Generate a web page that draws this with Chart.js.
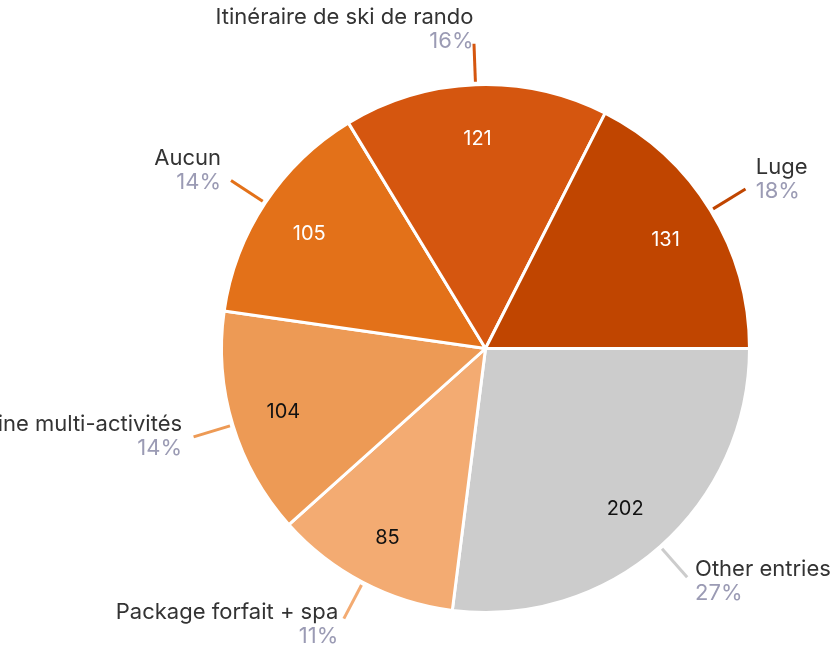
<!DOCTYPE html>
<html>
<head>
<meta charset="utf-8">
<script src="https://cdn.jsdelivr.net/npm/chart.js@4/dist/chart.umd.min.js"></script>
<style>
  html, body { margin: 0; padding: 0; background: #fff; }
  #wrap { position: relative; width: 836px; height: 647px; }
</style>
</head>
<body>
<div id="wrap"><canvas id="pieChart"></canvas></div>
<script>
// Data, clockwise from 3 o'clock
const labels = ['Other entries', 'Package forfait + spa', 'Semaine multi-activités', 'Aucun', 'Itinéraire de ski de rando', 'Luge'];
const values = [202, 85, 104, 105, 121, 131];
const sliceColors = ['#cccccc', '#f3ab72', '#ed9a55', '#e37119', '#d5560f', '#c04500'];
const valueColors = ['#111111', '#111111', '#111111', '#ffffff', '#ffffff', '#ffffff'];

const FONT = 'Inter, "Noto Sans", sans-serif';

// Draws values inside slices and outside labels with leader lines
const sliceLabels = {
    id: 'sliceLabels',
    afterDatasetsDraw(chart) {
        const ctx = chart.ctx;
        const meta = chart.getDatasetMeta(0);
        const total = values.reduce((a, b) => a + b, 0);

        meta.data.forEach((arc, i) => {
            const { x, y, startAngle, endAngle, outerRadius } = arc.getProps(['x', 'y', 'startAngle', 'endAngle', 'outerRadius'], true);
            const mid = (startAngle + endAngle) / 2;
            const cos = Math.cos(mid);
            const sin = Math.sin(mid);

            // value inside
            ctx.save();
            ctx.font = '20px ' + FONT;
            ctx.fillStyle = valueColors[i];
            ctx.textAlign = 'center';
            ctx.textBaseline = 'middle';
            const rIn = outerRadius * 0.8;
            ctx.fillText(String(values[i]), x + cos * rIn, y + sin * rIn + 2);

            // leader line
            const r1 = outerRadius + 3;
            const r2 = outerRadius + 41;
            const ex = x + cos * r2;
            const ey = y + sin * r2;
            ctx.strokeStyle = sliceColors[i];
            ctx.lineWidth = 3;
            ctx.beginPath();
            ctx.moveTo(x + cos * r1, y + sin * r1);
            ctx.lineTo(ex, ey);
            ctx.stroke();

            // outside label
            const tx = ex + 12 * cos;
            ctx.textAlign = cos < 0 ? 'right' : 'left';
            const nameY = ey - 16 + 10.6 * sin;
            ctx.font = '22px ' + FONT;
            ctx.fillStyle = '#333333';
            ctx.fillText(labels[i], tx, nameY);
            ctx.fillStyle = '#9b9bb4';
            ctx.fillText(Math.round(values[i] / total * 100) + '%', tx, nameY + 24);
            ctx.restore();
        });
    }
};

new Chart(document.getElementById('pieChart').getContext('2d'), {
    type: 'pie',
    data: {
        labels: labels,
        datasets: [{
            data: values,
            backgroundColor: sliceColors,
            borderColor: '#ffffff',
            borderWidth: 3,
            hoverOffset: 0
        }]
    },
    options: {
        responsive: true,
        maintainAspectRatio: false,
        animation: false,
        rotation: 90,
        layout: {
            padding: { top: 83, bottom: 33, left: 220, right: 85 }
        },
        plugins: {
            legend: { display: false },
            tooltip: { enabled: false }
        }
    },
    plugins: [sliceLabels]
});
</script>
</body>
</html>
